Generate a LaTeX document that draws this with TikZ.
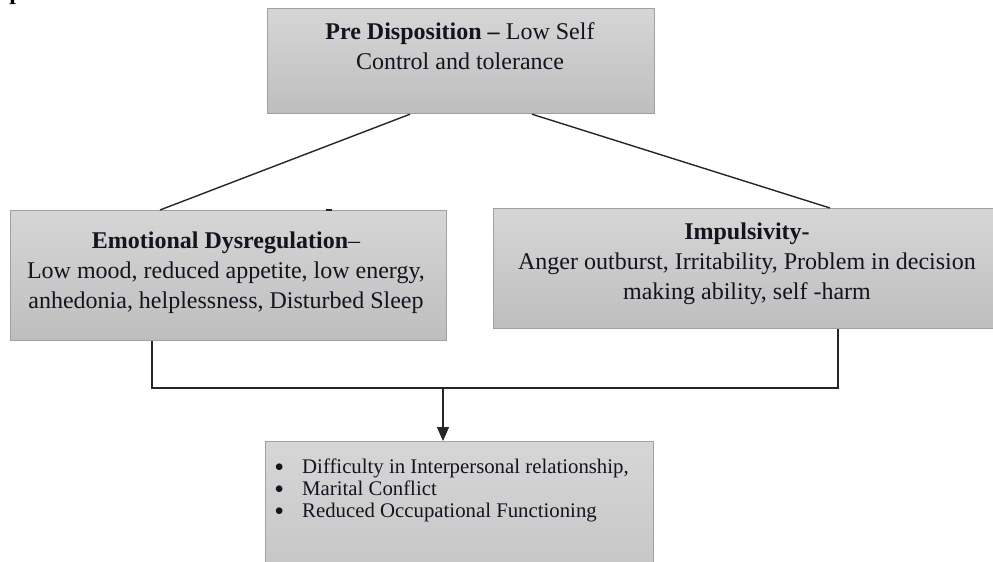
\documentclass[tikz,border=0pt]{standalone}
\usepackage{fontspec}
\setmainfont{Liberation Serif}
\usetikzlibrary{calc,arrows.meta}
\definecolor{boxtop}{RGB}{214,214,214}
\definecolor{boxbot}{RGB}{190,190,190}
\definecolor{boxline}{RGB}{160,160,160}
\definecolor{txt}{RGB}{20,20,30}
\newcommand{\bigbul}{\raisebox{-1.2pt}{\fontsize{14}{11}\selectfont\textbullet}}
\tikzset{
  gbox/.style={draw=boxline, line width=0.6pt, top color=boxtop, bottom color=boxbot,
    rectangle, inner sep=0pt, anchor=north west},
  btext/.style={align=center, text=txt, font=\fontsize{12}{15}\selectfont, inner sep=0pt},
  conn/.style={draw=black!85, line width=0.7pt},
}
\begin{document}
\begin{tikzpicture}[x=0.5pt,y=-0.5pt]
\useasboundingbox (0,0) rectangle (993,562);
\clip (0,0) rectangle (993,562);
% fragment of a letter at the top edge
\node[anchor=base west, inner sep=0pt, font=\fontsize{12}{15}\selectfont\bfseries] (frag) at (9,-1) {p};
% boxes
\node[gbox, minimum width=193.5pt, minimum height=52.5pt] (top) at (267,8) {};
\node[gbox, minimum width=218pt, minimum height=65pt] (left) at (10,210) {};
\node[gbox, minimum width=260pt, minimum height=60pt] (right) at (493,208) {};
\node[gbox, top color=boxtop, bottom color={rgb,255:red,196;green,196;blue,196}, minimum width=194pt, minimum height=75pt] (bot) at (265,441) {};
% texts
\node[btext, anchor=north] (toptext) at (460,22) {\textbf{Pre Disposition –} Low Self\\Control and tolerance};
\node[btext, anchor=north] (lefttext) at (226,231) {\textbf{Emotional Dysregulation}–\\Low mood, reduced appetite, low energy,\\anhedonia, helplessness, Disturbed Sleep};
\node[btext, anchor=north] (righttext) at (747,222) {\textbf{Impulsivity-}\\Anger outburst, Irritability, Problem in decision\\making ability, self -harm};
\node[btext, anchor=north west, align=left, font=\fontsize{10.4}{11}\selectfont] (bottext) at (274,458) {%
  \begin{tabular}{@{}l@{\hspace{9pt}}l@{}}
  \bigbul & Difficulty in Interpersonal relationship,\\
  \bigbul & Marital Conflict\\
  \bigbul & Reduced Occupational Functioning
  \end{tabular}};
% connectors from the top box
\draw[conn] ([xshift=71.5pt]top.south west) -- ([xshift=75pt]left.north west);
\draw[conn] ([xshift=132.5pt]top.south west) -- ([xshift=168.5pt]right.north west);
\draw[conn, line width=1.2pt] ([xshift=158pt]left.north west) -- ([xshift=161pt]left.north west);
% joining connector
\coordinate (j) at (443,388);
\draw[conn] ([xshift=71pt]left.south west) |- (j) -| ([xshift=172.5pt]right.south west);
\draw[conn, -{Triangle[length=7pt,width=6pt]}] (j) -- (j |- bot.north);
\end{tikzpicture}
\end{document}
